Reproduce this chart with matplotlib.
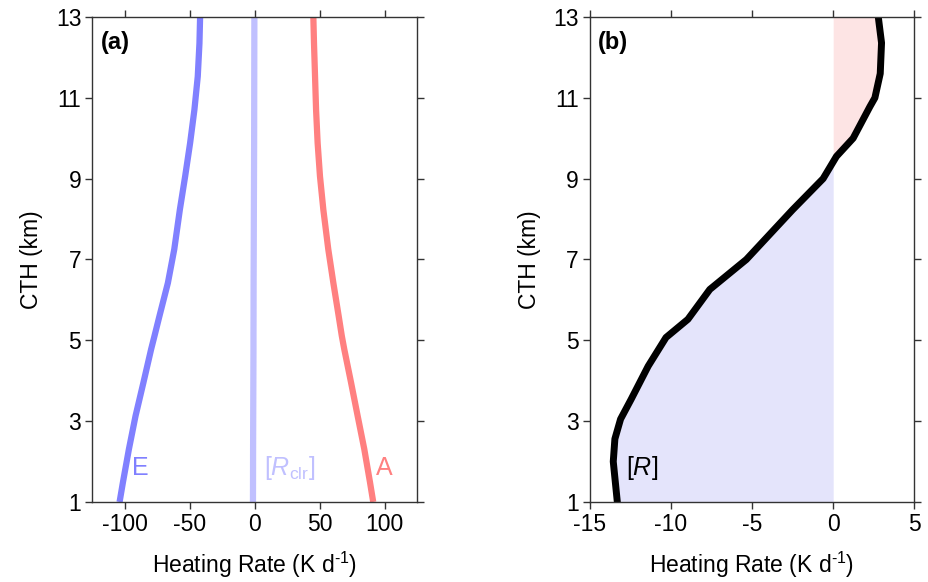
import matplotlib.pyplot as plt
import numpy as np

plt.rcParams['font.family'] = ['Liberation Sans', 'DejaVu Sans']
plt.rcParams['axes.unicode_minus'] = False
plt.rcParams['mathtext.fontset'] = 'custom'
plt.rcParams['mathtext.rm'] = 'Liberation Sans'
plt.rcParams['mathtext.it'] = 'Liberation Sans:italic'

# ---- panel (a): heating rate components vs cloud-top height ----
cth_a = [1.0, 1.49, 2.31, 3.13, 3.96, 4.78, 5.11, 5.60, 6.42, 7.25, 8.23, 9.06,
         9.88, 10.70, 11.53, 12.35, 13.0]
hr_E = [-104.1, -101.5, -96.9, -91.8, -85.7, -79.8, -77.2, -73.4, -66.9, -62.0,
        -57.7, -53.6, -49.8, -46.5, -43.9, -42.6, -42.1]
hr_A = [91.2, 88.7, 84.3, 79.2, 74.1, 68.9, 67.0, 64.6, 60.5, 56.6, 52.8, 50.2,
        48.4, 47.2, 46.4, 45.6, 45.1]
hr_clr = [-1.4, -1.35, -1.3, -1.2, -1.1, -1.0, -1.0, -0.95, -0.9, -0.8, -0.7, -0.6,
          -0.5, -0.45, -0.4, -0.35, -0.3]

# ---- panel (b): net heating rate [R] ----
cth_b = [1.0, 1.4, 2.0, 2.56, 3.05, 3.54, 4.36, 5.07, 5.52, 6.26, 7.0, 8.23, 9.0,
         9.55, 10.0, 10.78, 11.0, 11.6, 12.36, 13.0]
hr_R = [-13.3, -13.4, -13.55, -13.45, -13.1, -12.45, -11.4, -10.3, -8.95, -7.6,
        -5.35, -2.5, -0.62, 0.2, 1.23, 2.26, 2.57, 2.9, 2.98, 2.78]

yticks = [1, 3, 5, 7, 9, 11, 13]
fs = 16.5

fig = plt.figure(figsize=(9.29, 5.82), dpi=100)
ax1 = fig.add_axes([0.0995, 0.1375, 0.3495, 0.8333])
ax2 = fig.add_axes([0.6348, 0.1375, 0.3494, 0.8333])

blue = '#8080ff'
lblue = '#c0c0ff'
red = '#ff8080'

ax1.plot(hr_E, cth_a, color=blue, lw=4.5, solid_capstyle='butt', solid_joinstyle='round')
ax1.plot(hr_clr, cth_a, color=lblue, lw=4.5, solid_capstyle='butt')
ax1.plot(hr_A, cth_a, color=red, lw=4.5, solid_capstyle='butt', solid_joinstyle='round')
ax1.text(-88, 1.85, 'E', color=blue, fontsize=18, ha='center', va='center')
ax1.text(27, 1.85, r'[$\mathit{R}_{\rm clr}$]', color=lblue, fontsize=18,
         ha='center', va='center')
ax1.text(100, 1.85, 'A', color=red, fontsize=18, ha='center', va='center')
ax1.set_xlim(-125, 125)
ax1.set_xticks([-100, -50, 0, 50, 100])

R = np.array(hr_R)
H = np.array(cth_b)
ax2.fill_betweenx(H, 0, R, where=R <= 0, color='#e4e4fb', lw=0, interpolate=True)
ax2.fill_betweenx(H, 0, R, where=R >= 0, color='#fde4e4', lw=0, interpolate=True)
ax2.plot(hr_R, cth_b, color='black', lw=5, solid_joinstyle='round')
ax2.text(-11.8, 1.85, r'[$\mathit{R}$]', fontsize=18, ha='center', va='center')
ax2.set_xlim(-15, 5)
ax2.set_xticks([-15, -10, -5, 0, 5])

for ax, lab in [(ax1, '(a)'), (ax2, '(b)')]:
    ax.set_ylim(1, 13)
    ax.set_yticks(yticks)
    ax.tick_params(direction='out', length=5, width=1, labelsize=fs, pad=3,
                   top=True, right=True, color='#333333')
    for s in ax.spines.values():
        s.set_color('#333333')
        s.set_linewidth(1)
    ax.set_ylabel('CTH (km)', fontsize=fs, labelpad=9)
    ax.set_xlabel('Heating Rate (K d$^{\\mathregular{\u20101}}$)', fontsize=fs, labelpad=10)
    ax.text(0.025, 0.948, lab, transform=ax.transAxes, fontsize=17,
            fontweight='bold', ha='left', va='center')

fig.savefig('out.png', dpi=100)
